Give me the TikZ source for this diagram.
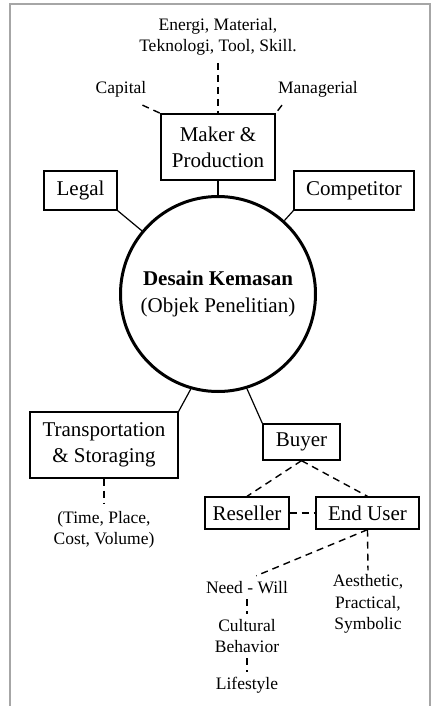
\documentclass[tikz,border=0pt]{standalone}
\usepackage{fontspec}
\setmainfont{Liberation Serif}
\usepackage{tikz}
\usetikzlibrary{arrows.meta,positioning,calc}
\tikzset{
  box/.style={draw, line width=1.3pt, align=center, inner sep=2pt, font=\fontsize{21}{26}\selectfont},
  hub/.style={circle, draw, line width=3pt, minimum size=195pt, align=center, font=\fontsize{21}{27}\selectfont},
  note/.style={align=center, inner sep=2pt, font=\fontsize{17.5}{21.5}\selectfont},
  link/.style={line width=1.2pt},
  dashlink/.style={line width=1.4pt, dash pattern=on 7pt off 5pt}
}
\begin{document}
\begin{tikzpicture}[x=1pt,y=-1pt]
        \useasboundingbox (0,0) rectangle (431,706);
        \draw[gray!70, line width=1.6pt] (10,706) -- (10,4) -- (430,4) -- (430,706);
        % centre
        \node[hub] (circ) at (218,294) {\textbf{Desain Kemasan}\\(Objek Penelitian)};
        % boxes
        \node[box, minimum width=114pt, minimum height=66pt] (maker) at (218,147) {Maker \&\\Production};
        \node[box, minimum width=73pt, minimum height=39pt] (legal) at (80.5,190.5) {Legal};
        \node[box, minimum width=120pt, minimum height=39pt] (comp) at (354,190.5) {Competitor};
        \node[box, minimum width=148pt, minimum height=66pt] (trans) at (104,445) {Transportation\\\& Storaging};
        \node[box, minimum width=77pt, minimum height=36pt] (buyer) at (301.5,442) {Buyer};
        \node[box, minimum width=84pt, minimum height=32pt] (reseller) at (247,513) {Reseller};
        \node[box, minimum width=103pt, minimum height=32pt] (enduser) at (367.5,513) {End User};
        % notes
        \node[note] (energi) at (218,37) {Energi, Material,\\Teknologi, Tool, Skill.};
        \node[note] (capital) at (121,89) {Capital};
        \node[note] (manag) at (318,89) {Managerial};
        \node[note] (tpcv) at (104,530) {(Time, Place,\\Cost, Volume)};
        \node[note] (need) at (247,588) {Need - Will};
        \node[note] (cultural) at (247,636) {Cultural\\Behavior};
        \node[note] (life) at (247,685) {Lifestyle};
        \node[note] (aest) at (368,604) {Aesthetic,\\Practical,\\Symbolic};
        % solid links
        \draw[link] (maker) -- (circ);
        \draw[link] (legal.south east) -- (circ);
        \draw[link] (comp.south west) -- (circ);
        \draw[link] (trans.north east) -- (circ.-106);
        \draw[link] (buyer.north west) -- (circ.-73);
        % dashed links
        \draw[dashlink, shorten <=5pt] (energi.south) -- (maker.north);
        \draw[dashlink] ($(capital.south east)+(-6,6)$) -- (maker.north west);
        \draw[dashlink] ($(manag.south west)+(6,6)$) -- (maker.north east);
        \draw[dashlink] (buyer.south) -- (reseller.north);
        \draw[dashlink] (buyer.south) -- (enduser.north);
        \draw[dashlink] (reseller) -- (enduser);
        \draw[dashlink, shorten >=6pt] (trans.south) -- (tpcv.north);
        \draw[dashlink, shorten >=10pt] (enduser.south) -- (need.north);
        \draw[dashlink, shorten >=2pt] (enduser.south) -- (aest.north);
        \draw[dashlink, shorten <=3pt, shorten >=3pt] (need) -- (cultural);
        \draw[dashlink, shorten <=3pt, shorten >=3pt] (cultural) -- (life);
      \end{tikzpicture}
\end{document}
